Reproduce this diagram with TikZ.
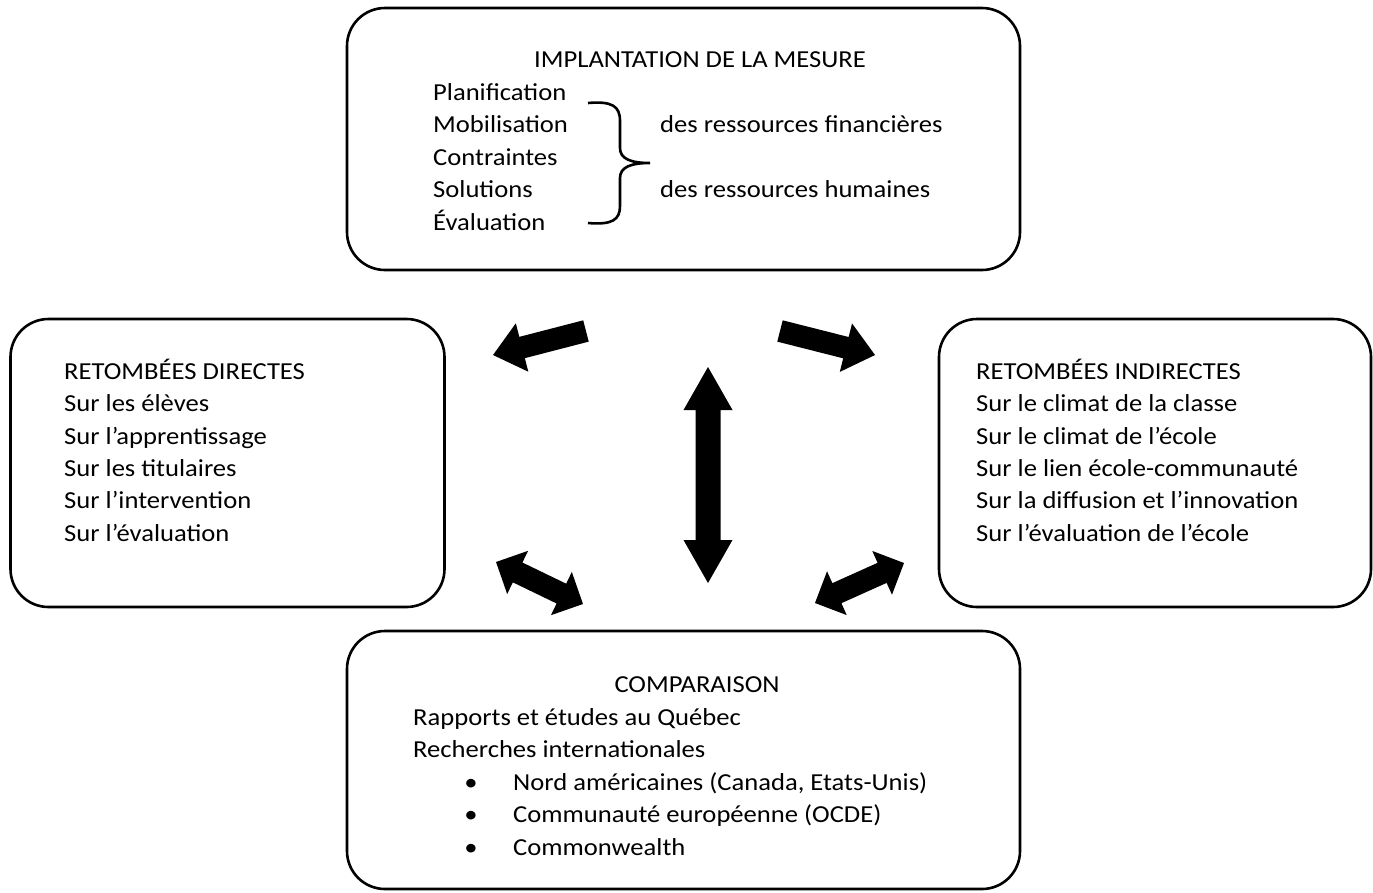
\documentclass[tikz,border=0pt]{standalone}
\usepackage{fontspec}
\setmainfont{Carlito}[FakeStretch=1.09]
\begin{document}
% filled block arrow: centre x, centre y, angle, length, shaft half-width, head half-width, head length
\newcommand\blockarrow[7]{%
  \fill[shift={(#1,#2)},rotate=#3]
    ({-#4/2},{-#5}) -- ({#4/2-#7},{-#5}) -- ({#4/2-#7},{-#6}) -- ({#4/2},0)
    -- ({#4/2-#7},{#6}) -- ({#4/2-#7},{#5}) -- ({-#4/2},{#5}) -- cycle;}
\newcommand\blockdarrow[7]{%
  \fill[shift={(#1,#2)},rotate=#3]
    ({-#4/2},0) -- ({-#4/2+#7},{#6}) -- ({-#4/2+#7},{#5}) -- ({#4/2-#7},{#5})
    -- ({#4/2-#7},{#6}) -- ({#4/2},0) -- ({#4/2-#7},{-#6}) -- ({#4/2-#7},{-#5})
    -- ({-#4/2+#7},{-#5}) -- ({-#4/2+#7},{-#6}) -- cycle;}
\begin{tikzpicture}[x=1pt,y=-1pt,
  box/.style={draw,line width=2.6pt,rounded corners=38pt,inner sep=0pt},
  txt/.style={anchor=base west,inner sep=0pt,font=\fontsize{24.4}{32}\selectfont},
  ctxt/.style={anchor=base,inner sep=0pt,font=\fontsize{24.4}{32}\selectfont}]
\useasboundingbox (0,0) rectangle (1373,892);

% boxes
\node[box,minimum width=673pt,minimum height=262pt] (top) at (683.5,139) {};
\node[box,minimum width=434pt,minimum height=288pt] (left) at (227.5,463) {};
\node[box,minimum width=432pt,minimum height=288pt] (right) at (1155,463) {};
\node[box,minimum width=673pt,minimum height=258pt] (bottom) at (683.5,760) {};

% top box
\node[ctxt] (implTitle) at (700,67) {IMPLANTATION DE LA MESURE};
\node[txt] (plan) at (433,100) {Planification};
\node[txt] (mobil) at (433,132) {Mobilisation};
\node[txt] (contr) at (433,165) {Contraintes};
\node[txt] (solut) at (433,197) {Solutions};
\node[txt] (evalu) at (433,230) {Évaluation};
\node[txt] (fin) at (660,132) {des ressources financières};
\node[txt] (hum) at (660,197) {des ressources humaines};
\draw[line width=2.6pt]
  (588,103) .. controls (612,101) and (620,106) .. (620,121) -- (620,148)
  .. controls (620,159) and (631,163) .. (650,163)
  .. controls (631,163) and (620,167) .. (620,178) -- (620,206)
  .. controls (620,220) and (612,225) .. (588,223);

% left box
\node[txt] (dirTitle) at (64,379) {RETOMBÉES DIRECTES};
\node[txt] (d1) at (64,411.5) {Sur les élèves};
\node[txt] (d2) at (64,444) {Sur l’apprentissage};
\node[txt] (d3) at (64,476) {Sur les titulaires};
\node[txt] (d4) at (64,508.5) {Sur l’intervention};
\node[txt] (d5) at (64,541) {Sur l’évaluation};

% right box
\node[txt] (indTitle) at (976,379) {RETOMBÉES INDIRECTES};
\node[txt] (i1) at (976,411.5) {Sur le climat de la classe};
\node[txt] (i2) at (976,444) {Sur le climat de l’école};
\node[txt] (i3) at (976,476) {Sur le lien école-communauté};
\node[txt] (i4) at (976,508.5) {Sur la diffusion et l’innovation};
\node[txt] (i5) at (976,541) {Sur l’évaluation de l’école};

% bottom box
\node[ctxt] (compTitle) at (697,692) {COMPARAISON};
\node[txt] (c1) at (413,725) {Rapports et études au Québec};
\node[txt] (c2) at (413,757) {Recherches internationales};
\node[ctxt] (b1) at (471,790) {\textbullet};
\node[ctxt] (b2) at (471,822) {\textbullet};
\node[ctxt] (b3) at (471,855) {\textbullet};
\node[txt] (c3) at (513,790) {Nord américaines (Canada, Etats-Unis)};
\node[txt] (c4) at (513,822) {Communauté européenne (OCDE)};
\node[txt] (c5) at (513,855) {Commonwealth};

% block arrows between the boxes
\blockarrow{539.5}{343}{194.5}{96}{11}{25}{30}
\blockarrow{827.5}{343}{-14.2}{98}{11}{25}{30}
\blockdarrow{708}{475}{90}{216}{12.5}{24.5}{43}
\blockdarrow{539.5}{583}{-25.8}{96.6}{11}{24}{24}
\blockdarrow{859.5}{583}{24.2}{97.6}{11}{24}{24}
\end{tikzpicture}
\end{document}
